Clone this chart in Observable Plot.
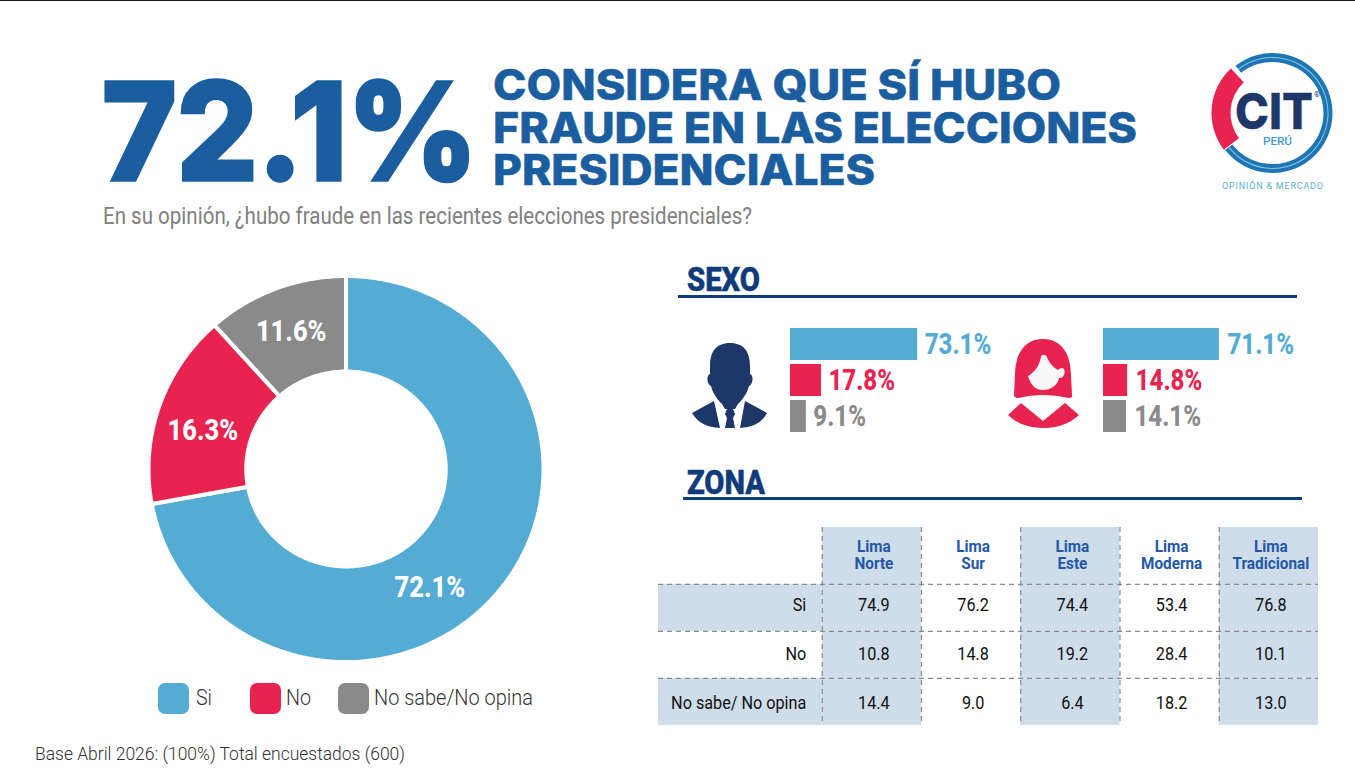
<!DOCTYPE html>
<html><head><meta charset="utf-8">
<script src="https://cdn.jsdelivr.net/npm/d3@7"></script>
<script src="https://cdn.jsdelivr.net/npm/@observablehq/plot@0.6"></script>
<style>
html,body{margin:0;padding:0;background:#fff;overflow:hidden}
#page{position:relative;width:1355px;height:771px;border-top:1px solid #111;box-sizing:border-box;margin:0;overflow:hidden}
#page>div,#page>svg{position:absolute}
#page svg{background:transparent;font-family:Roboto,sans-serif}
</style></head><body>
<div id="page"></div>
<script>
// ---- data ----
const answers = ["Si","No","No sabe/No opina"];
const totalValues = [72.1,16.3,11.6];
const maleValues = [73.1,17.8,9.1];
const femaleValues = [71.1,14.8,14.1];
const zones = ["Lima\nNorte","Lima\nSur","Lima\nEste","Lima\nModerna","Lima\nTradicional"];
const rowLabels = ["Si","No","No sabe/ No opina"];
const zoneSi = [74.9,76.2,74.4,53.4,76.8];
const zoneNo = [10.8,14.8,19.2,28.4,10.1];
const zoneNs = [14.4,9.0,6.4,18.2,13.0];
const BLUE="#54ACD4",RED="#E9234F",GRAY="#8A8A8A",NAVY="#0F3B7B",SHADE="#CFDCE9",TITLE="#1A5E9F";
const palette=[BLUE,RED,GRAY];
const page=document.getElementById("page");
const ROBOTO="Roboto,sans-serif";

function condense(svg,f){
  svg.querySelectorAll("text").forEach(t=>{
    const spans=t.querySelectorAll("tspan");
    (spans.length?[...spans]:[t]).forEach(el=>{
      el.setAttribute("textLength",(el.getComputedTextLength()*f).toFixed(1));
      el.setAttribute("lengthAdjust","spacingAndGlyphs");
    });
  });
}
function place(node,left,top,f){
  const d=document.createElement("div");
  d.style.left=left+"px";d.style.top=(top-1)+"px";
  d.appendChild(node);page.appendChild(d);
  if(f)condense(node,f);
}

// ---- donut ----
let cum=0;
const slices=answers.map((a,i)=>{const s={label:a,value:totalValues[i],start:cum,end:cum+totalValues[i]};cum=s.end;return s;});
const HOLE=0.505;
const polar=(pct,r)=>{const t=pct/100*2*Math.PI;return {x:r*Math.sin(t),y:-r*Math.cos(t)};};
const outline=slices.flatMap(s=>{
  const n=Math.ceil(s.value*3),pts=[];
  for(let k=0;k<=n;k++)pts.push({label:s.label,...polar(s.start+s.value*k/n,1)});
  for(let k=n;k>=0;k--)pts.push({label:s.label,...polar(s.start+s.value*k/n,HOLE)});
  pts.push(pts[0]);
  return pts;
});
const nudges=[[-30,26],[-3,8],[-2,-2]];
const donut=Plot.plot({
  width:400,height:400,margin:0,
  x:{domain:[-1,1],range:[2,397],axis:null},
  y:{domain:[-1,1],range:[6.5,392.5],axis:null},
  color:{domain:answers,range:palette},
  marks:[
    Plot.line(outline,{x:"x",y:"y",z:"label",fill:"label",stroke:"white",strokeWidth:4,strokeLinejoin:"miter"}),
    ...slices.map((s,i)=>Plot.text([s],{
      x:d=>polar((d.start+d.end)/2,.75).x,y:d=>polar((d.start+d.end)/2,.75).y,
      text:d=>d.value.toFixed(1)+"%",fill:"white",fontSize:30,fontWeight:800,
      dx:nudges[i][0],dy:nudges[i][1]}))
  ]});
place(donut,146,268.5,.85);

// ---- sex bars ----
function sexBars(values,pxPerUnit,gap){
  const w=240;
  const rows=answers.map((a,i)=>({a,v:values[i]}));
  return Plot.plot({
    width:w,height:104,margin:0,
    x:{domain:[0,w/pxPerUnit],range:[0,w],axis:null},
    y:{domain:answers,range:[0,104],paddingInner:0.111,paddingOuter:0,round:false,axis:null},
    color:{domain:answers,range:palette},
    marks:[
      Plot.barX(rows,{x:"v",y:"a",fill:"a"}),
      Plot.text(rows,{x:"v",y:"a",text:d=>d.v.toFixed(1)+"%",fill:"a",textAnchor:"start",dx:gap,fontSize:29,fontWeight:800})
    ]});
}
place(sexBars(maleValues,1.74,7),790,328,.83);
place(sexBars(femaleValues,1.63,8),1103,328,.83);

// ---- zone table ----
const HEAD=1.21,LEFT=1.65;
const tableRows=[zoneSi,zoneNo,zoneNs];
const cells=tableRows.flatMap((vals,r)=>vals.map((v,c)=>({r,c,v})));
const labels=rowLabels.map((t,r)=>({t,r}));
const heads=zones.map((t,c)=>({t,c}));
const dash="5,4";
const rowCentre=r=>r+.5+(r-1)*.04;
const table=Plot.plot({
  width:660,height:198,margin:0,
  x:{domain:[-LEFT,5],range:[0,660],axis:null},
  y:{domain:[-HEAD,3],range:[0,198],axis:null},
  marks:[
    Plot.rect([0,2,4],{x1:d=>d,x2:d=>d+1,y1:-HEAD,y2:3,fill:SHADE}),
    Plot.rect([0,2],{x1:-LEFT,x2:0,y1:d=>d,y2:d=>d+1,fill:SHADE}),
    Plot.ruleY([0,1,2],{x1:-LEFT,x2:5,stroke:"#8a8a8a",strokeWidth:1.2,strokeDasharray:dash}),
    Plot.ruleX([0,1,2,3,4,5],{y1:-HEAD,y2:3,stroke:"#8a8a8a",strokeWidth:1.2,strokeDasharray:dash}),
    Plot.text(heads,{x:d=>d.c+.5,y:-HEAD/2,text:"t",fill:"#2358A8",fontSize:17,fontWeight:700,lineHeight:1,dy:-1,dx:2}),
    Plot.text(labels,{x:0,y:d=>rowCentre(d.r),text:"t",textAnchor:"end",dx:-16,dy:-1,fill:"#111",fontSize:18}),
    Plot.text(cells,{x:d=>d.c+.5,y:d=>rowCentre(d.r),text:d=>d.v.toFixed(1),fill:"#111",fontSize:18,dy:-1,dx:2})
  ]});
place(table,658,527,.9);

// ---- page furniture: titles, legend, icons, logo ----
const o=d3.select(page).append("svg").attr("width",1355).attr("height",771).style("left","0").style("top","-1px").style("pointer-events","none");
function txt(s,x,base,len,size,weight,fill,family=ROBOTO,anchor="start",sw=0){
  return o.append("text").attr("x",x).attr("y",base).attr("font-size",size).attr("font-weight",weight)
   .attr("fill",fill).attr("font-family",family).attr("text-anchor",anchor)
   .attr("stroke",sw?fill:"none").attr("stroke-width",sw)
   .attr("textLength",len).attr("lengthAdjust","spacingAndGlyphs").text(s);
}
const INTER="Inter,sans-serif";
txt("72.1%",102,180,376,135,800,TITLE,INTER,"start",3.5);
txt("CONSIDERA QUE SÍ HUBO",493,100,568,42,800,TITLE,INTER,"start",.5);
txt("FRAUDE EN LAS ELECCIONES",493,143,644,42,800,TITLE,INTER,"start",.5);
txt("PRESIDENCIALES",493,185,382,42,800,TITLE,INTER,"start",.5);
txt("En su opinión, ¿hubo fraude en las recientes elecciones presidenciales?",103,224,649,23,400,"#808080");
txt("SEXO",687,291,73,33,800,NAVY,ROBOTO,"start",.6);
txt("ZONA",687,494,78,33,800,NAVY,ROBOTO,"start",.6);
o.append("rect").attr("x",678).attr("y",295).attr("width",619).attr("height",3).attr("fill",NAVY);
o.append("rect").attr("x",683).attr("y",497).attr("width",619).attr("height",3).attr("fill",NAVY);
// legend
[[158,196,16],[250,286,25],[338,374,159]].forEach(([sx,tx,len],i)=>{
  o.append("rect").attr("x",sx).attr("y",683).attr("width",31).attr("height",31).attr("rx",7).attr("fill",palette[i]);
  txt(answers[i],tx,705,len,22,300,"#333");
});
txt("Base Abril 2026: (100%) Total encuestados (600)",35,760,370,19,300,"#333");
// man icon
const MAN="#1D3768";
o.append("path").attr("fill",MAN).attr("d","M730 343C716 343 710 352 710 366L710 374C706 375 707 385 711 386C713 394 718 400 722 404L725 409L735 409L738 404C742 400 747 394 749 386C753 385 754 375 750 374L750 366C750 352 744 343 730 343Z");
o.append("path").attr("fill",MAN).attr("d","M692 413L714 401L720 428Q700 427 692 413ZM767 413L745 401L740 428Q760 427 767 413ZM727 409L733 409L735 414L733 418L735 428L725 428L727 418L725 414Z");
// woman icon
o.append("path").attr("fill",RED).attr("d","M1043 339C1024 339 1015 355 1015 375L1014 395Q1014 398 1018 398Q1030 395 1043 395Q1056 395 1069 398Q1073 398 1072 395L1071 375C1071 355 1062 339 1043 339Z");
o.append("path").attr("fill","#F7F7F7").attr("d","M1041 357C1039 366 1035 372 1028 376C1031 386 1036 390 1043 390C1052 390 1058 384 1059 378C1063 379 1066 373 1064 369C1062 367 1060 368 1058 370C1054 368 1049 363 1047 357C1045 354 1042 354 1041 357Z");
o.append("path").attr("fill",RED).attr("d","M1008 415L1021 403L1043 421L1065 403L1079 415Q1065 428 1043 428Q1021 428 1008 415Z");
// logo
const cx=1272.5,cy=113;
const arc=d3.arc();
const deg=a=>a*Math.PI/180;
const lg=o.append("g").attr("transform",`translate(${cx},${cy})`);
lg.append("path").attr("fill","#1C75B4").attr("d",arc({innerRadius:51,outerRadius:60,startAngle:deg(-38),endAngle:deg(232)}));
lg.append("path").attr("fill","#8CC4E2").attr("d",arc({innerRadius:55,outerRadius:56,startAngle:deg(-38),endAngle:deg(232)}));
lg.append("path").attr("fill",RED).attr("d",arc({innerRadius:42,outerRadius:61,startAngle:deg(233-360),endAngle:deg(-43)}));
txt("CIT",1235,129,78,50,800,"#1D3768",INTER,"start",.4);
txt("®",1314,97,6,8,400,"#1D3768");
txt("PERÚ",1263,145,29,11,500,"#3E9BCF");
txt("OPINIÓN & MERCADO",1222,189,101,9,400,"#5AAFD6").attr("lengthAdjust","spacing");
</script>
</body></html>
